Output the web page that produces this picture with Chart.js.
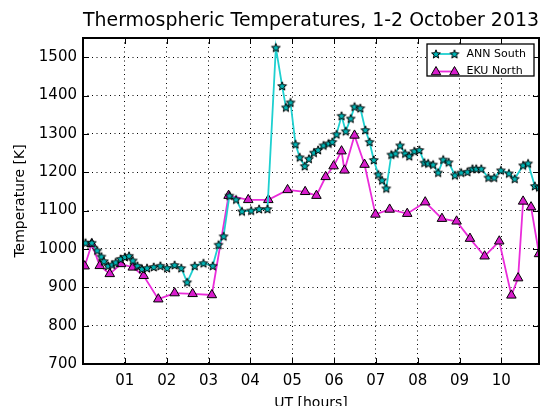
<!DOCTYPE html>
<html>
<head>
<meta charset="utf-8">
<script src="https://cdn.jsdelivr.net/npm/chart.js@4/dist/chart.umd.min.js"></script>
<style>
  html, body { margin: 0; padding: 0; background: #fff; overflow: hidden; }
  #wrap { width: 540px; height: 406px; }
</style>
</head>
<body>
<div id="wrap"><canvas id="myChart" width="540" height="406"></canvas></div>
<script>
// data (UT hours, temperature in K)
const annHours = [0.06, 0.21, 0.34, 0.44, 0.50, 0.60, 0.70, 0.78, 0.90, 1.00, 1.10, 1.19, 1.30, 1.41, 1.53,
  1.69, 1.85, 2.01, 2.19, 2.35, 2.49, 2.67, 2.88, 3.10, 3.24, 3.36, 3.50, 3.66, 3.80, 4.02, 4.21, 4.41,
  4.61, 4.76, 4.85, 4.96, 5.08, 5.18, 5.30, 5.40, 5.52, 5.62, 5.75, 5.87, 5.96, 6.06, 6.18, 6.28, 6.40,
  6.49, 6.63, 6.75, 6.85, 6.95, 7.06, 7.15, 7.25, 7.37, 7.47, 7.58, 7.70, 7.80, 7.92, 8.04, 8.16, 8.25,
  8.37, 8.49, 8.61, 8.74, 8.89, 9.04, 9.19, 9.31, 9.40, 9.52, 9.69, 9.83, 9.99, 10.18, 10.32, 10.52,
  10.64, 10.80, 10.90];
const annTemps = [1016, 1016, 996, 980, 968, 956, 959, 965, 974, 979, 982, 970, 956, 948, 950,
  953, 956, 950, 958, 950, 913, 956, 963, 956, 1011, 1033, 1139, 1129, 1098, 1100, 1104, 1104,
  1525, 1425, 1369, 1382, 1273, 1239, 1216, 1235, 1251, 1258, 1270, 1275, 1279, 1299, 1347, 1307, 1340,
  1371, 1367, 1310, 1279, 1232, 1194, 1179, 1158, 1246, 1249, 1270, 1249, 1242, 1255, 1258, 1225, 1223,
  1220, 1199, 1233, 1226, 1192, 1199, 1201, 1209, 1209, 1209, 1186, 1186, 1205, 1197, 1183, 1218,
  1223, 1164, 1161];

const ekuHours = [0.04, 0.21, 0.40, 0.64, 0.91, 1.19, 1.45, 1.80, 2.19, 2.62, 3.08, 3.48, 3.95, 4.43,
  4.89, 5.31, 5.58, 5.80, 5.99, 6.18, 6.25, 6.49, 6.73, 6.99, 7.33, 7.75, 8.18, 8.58, 8.93, 9.25,
  9.60, 9.95, 10.24, 10.40, 10.52, 10.71, 10.90];
const ekuTemps = [955, 1013, 956, 935, 961, 952, 930, 869, 885, 883, 880, 1139, 1128, 1128,
  1154, 1149, 1139, 1188, 1216, 1255, 1205, 1296, 1220, 1090, 1103, 1092, 1122, 1079, 1072, 1027,
  981, 1020, 879, 924, 1124, 1109, 987];

const xTicks = [1, 2, 3, 4, 5, 6, 7, 8, 9, 10];
const yTicks = [700, 800, 900, 1000, 1100, 1200, 1300, 1400, 1500];

const seriesNames = ['ANN South', 'EKU North'];
const cyanLine = '#1ed0d0';
const cyanFill = '#00b4b4';
const magLine = '#ea2cda';
const magFill = '#d81ccc';
const font = 'DejaVu Sans';

// filled five point star marker like matplotlib '*'
function starPath(ctx, cx, cy, ro, ri) {
  ctx.beginPath();
  for (let i = 0; i < 10; i++) {
    const r = i % 2 === 0 ? ro : ri;
    const a = -Math.PI / 2 + i * Math.PI / 5;
    const px = cx + r * Math.cos(a), py = cy + r * Math.sin(a);
    if (i === 0) ctx.moveTo(px, py); else ctx.lineTo(px, py);
  }
  ctx.closePath();
}
function makeStar() {
  const c = document.createElement('canvas');
  c.width = 12; c.height = 12;
  const g = c.getContext('2d');
  starPath(g, 6, 6.4, 4.6, 2);
  g.fillStyle = cyanFill;
  g.fill();
  g.lineWidth = 1;
  g.strokeStyle = '#000';
  g.stroke();
  return c;
}
const starImg = makeStar();

function triPath(ctx, cx, cy, r) {
  const edge = 3 * r / Math.sqrt(3);
  const h = edge * Math.sqrt(3) / 2;
  ctx.beginPath();
  ctx.moveTo(cx - edge / 2, cy + h / 3);
  ctx.lineTo(cx + edge / 2, cy + h / 3);
  ctx.lineTo(cx, cy - 2 * h / 3);
  ctx.closePath();
}

const framePlugin = {
  id: 'frame',
  afterDraw(chart) {
    const {ctx, chartArea: a, scales} = chart;
    ctx.save();
    // inward ticks on all four sides
    ctx.strokeStyle = '#000';
    ctx.lineWidth = 1;
    ctx.beginPath();
    xTicks.forEach(v => {
      const x = Math.round(scales.x.getPixelForValue(v)) + 0.5;
      ctx.moveTo(x, a.bottom); ctx.lineTo(x, a.bottom - 6);
      ctx.moveTo(x, a.top); ctx.lineTo(x, a.top + 6);
    });
    yTicks.forEach(v => {
      const y = Math.round(scales.y.getPixelForValue(v)) + 0.5;
      ctx.moveTo(a.left, y); ctx.lineTo(a.left + 6, y);
      ctx.moveTo(a.right, y); ctx.lineTo(a.right - 6, y);
    });
    ctx.stroke();
    // axes frame
    ctx.lineWidth = 2;
    ctx.strokeRect(a.left, a.top, a.right - a.left, a.bottom - a.top);

    // legend box
    const bx = 427, by = 44, bw = 107, bh = 32;
    ctx.fillStyle = '#fff';
    ctx.fillRect(bx, by, bw, bh);
    ctx.lineWidth = 1.3;
    ctx.strokeRect(bx, by, bw, bh);
    const rows = [54, 71.5];
    // ANN row
    ctx.strokeStyle = cyanLine; ctx.lineWidth = 1.8;
    ctx.beginPath(); ctx.moveTo(436, rows[0]); ctx.lineTo(454.5, rows[0]); ctx.stroke();
    ctx.drawImage(starImg, 436 - 6, rows[0] - 6);
    ctx.drawImage(starImg, 454.5 - 6, rows[0] - 6);
    // EKU row
    ctx.strokeStyle = magLine;
    ctx.beginPath(); ctx.moveTo(436, rows[1]); ctx.lineTo(454.5, rows[1]); ctx.stroke();
    [436, 454.5].forEach(x => {
      triPath(ctx, x, rows[1] + 0.5, 5.5);
      ctx.fillStyle = magFill; ctx.fill();
      ctx.strokeStyle = '#000'; ctx.lineWidth = 1; ctx.stroke();
    });
    ctx.fillStyle = '#000';
    ctx.font = '11px "' + font + '"';
    ctx.textBaseline = 'middle';
    ctx.textAlign = 'left';
    ctx.fillText(seriesNames[0], 466.5, rows[0]);
    ctx.fillText(seriesNames[1], 466.5, rows[1]);
    ctx.restore();
  }
};

const ctx = document.getElementById('myChart').getContext('2d');
const chart = new Chart(ctx, {
  type: 'scatter',
  data: {
    datasets: [{
      label: seriesNames[0],
      data: annHours.map((h, i) => ({x: h, y: annTemps[i]})),
      showLine: true,
      borderColor: cyanLine,
      borderWidth: 1.8,
      pointStyle: starImg,
      pointRadius: 5,
      pointHoverRadius: 5
    }, {
      label: seriesNames[1],
      data: ekuHours.map((h, i) => ({x: h, y: ekuTemps[i]})),
      showLine: true,
      borderColor: magLine,
      borderWidth: 1.8,
      pointStyle: 'triangle',
      pointRadius: 5.5,
      pointHoverRadius: 5.5,
      pointBackgroundColor: magFill,
      pointBorderColor: '#000',
      pointBorderWidth: 1
    }]
  },
  options: {
    responsive: false,
    animation: false,
    events: [],
    layout: {autoPadding: false, padding: {left: 0, right: 1, top: 0, bottom: 0}},
    plugins: {
      legend: {display: false},
      tooltip: {enabled: false},
      title: {
        display: true,
        text: 'Thermospheric Temperatures, 1-2 October 2013',
        fullSize: false,
        color: '#000',
        font: {family: font, size: 19, weight: 'normal', lineHeight: 1.2},
        padding: {top: 9.6, bottom: 5.6}
      }
    },
    scales: {
      x: {
        type: 'linear',
        min: 0,
        max: 10.9,
        afterBuildTicks: s => { s.ticks = xTicks.map(v => ({value: v})); },
        afterFit: s => { s.height = 42; s.paddingLeft = 0; s.paddingRight = 0; },
        ticks: {
          color: '#000',
          padding: 8,
          maxRotation: 0,
          font: {family: font, size: 15},
          callback: v => String(v).padStart(2, '0')
        },
        grid: {color: '#000', lineWidth: 1, drawTicks: false},
        border: {display: false, dash: [1, 3.5]},
        title: {
          display: true,
          text: 'UT [hours]',
          color: '#000',
          font: {family: font, size: 14, lineHeight: 1.2},
          padding: {top: 0, bottom: -6}
        }
      },
      y: {
        min: 700,
        max: 1550,
        afterBuildTicks: s => { s.ticks = yTicks.map(v => ({value: v})); },
        afterFit: s => { s.width = 83; s.paddingTop = 0; s.paddingBottom = 0; },
        ticks: {
          color: '#000',
          padding: 6,
          font: {family: font, size: 15},
          callback: v => String(v)
        },
        grid: {color: '#000', lineWidth: 1, drawTicks: false},
        border: {display: false, dash: [1, 3.5]},
        title: {
          display: true,
          text: 'Temperature [K]',
          color: '#000',
          font: {family: font, size: 14, lineHeight: 1.2},
          padding: {top: 11.5, bottom: 0}
        }
      }
    }
  },
  plugins: [framePlugin]
});
</script>
</body>
</html>
